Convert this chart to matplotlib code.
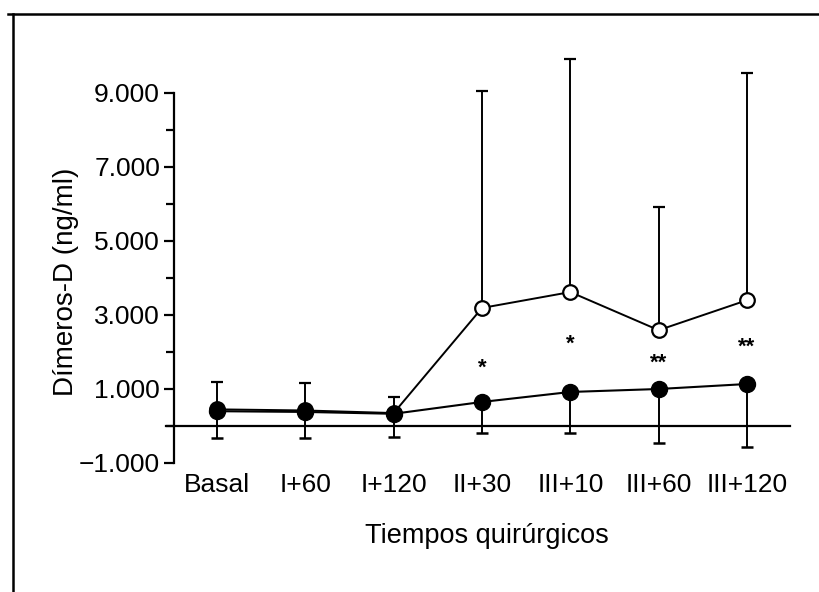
import matplotlib
matplotlib.use('Agg')
import matplotlib.pyplot as plt
from matplotlib.lines import Line2D
from matplotlib.ticker import FixedLocator

plt.rcParams['font.family'] = ['Liberation Sans', 'DejaVu Sans']

# ---- data ----
categories = ["Basal", "I+60", "I+120", "II+30", "III+10", "III+60", "III+120"]
open_mean = [450, 420, 350, 3190, 3620, 2590, 3400]
open_sd_up = [740, 740, 430, 5860, 6300, 3330, 6140]
filled_mean = [400, 380, 330, 650, 920, 1000, 1135]
filled_sd_down = [720, 700, 630, 840, 1120, 1460, 1705]
sig_labels = ["*", "*", "**", "**"]
sig_index = [3, 4, 5, 6]
sig_y = [1700, 2350, 1860, 2270]
ytick_vals = [-1000, 1000, 3000, 5000, 7000, 9000]
ytick_labels = ["\u22121.000", "1.000", "3.000", "5.000", "7.000", "9.000"]
yminor_vals = [0, 2000, 4000, 6000, 8000]

fig = plt.figure(figsize=(8.19, 5.92), dpi=100)
ax = fig.add_axes([174 / 819, 129 / 592, (790 - 174) / 819, (543.4 - 129) / 592])

x = list(range(len(categories)))
zeros = [0] * len(x)

ax.errorbar(x, open_mean, yerr=[zeros, open_sd_up], fmt='-o', color='black',
            mfc='white', mec='black', ms=10.5, mew=1.6, lw=1.4, elinewidth=1.4,
            capsize=4, capthick=1.8, zorder=3)
ax.errorbar(x, filled_mean, yerr=[filled_sd_down, zeros], fmt='-o', color='black',
            mfc='black', mec='black', ms=11.5, lw=1.5, elinewidth=1.4,
            capsize=4, capthick=1.8, zorder=4)

ax.axhline(0, xmin=-0.013, xmax=1.0, color='black', lw=1.6, clip_on=False, zorder=2)

for lab, i, yv in zip(sig_labels, sig_index, sig_y):
    ax.annotate(lab, xy=(x[i], yv), xytext=(0, -8), textcoords='offset points',
                ha='center', va='baseline', fontsize=16, fontweight='bold')

ax.set_xlim(-0.487, 6.487)
ax.set_ylim(-1000, 10200)

for s in ['top', 'right', 'bottom']:
    ax.spines[s].set_visible(False)
ax.spines['left'].set_bounds(-1000, 9000)
ax.spines['left'].set_linewidth(1.6)

ax.set_xticks(x)
ax.set_xticklabels(categories, fontsize=19)
ax.tick_params(axis='x', length=0, pad=7)

ax.yaxis.set_major_locator(FixedLocator(ytick_vals))
ax.set_yticklabels(ytick_labels, fontsize=19)
ax.yaxis.set_minor_locator(FixedLocator(yminor_vals))
ax.tick_params(axis='y', which='major', length=7, width=1.6, pad=3, direction='out')
ax.tick_params(axis='y', which='minor', length=5.5, width=1.6, direction='out')

fig.text(487 / 819, 49 / 592, "Tiempos quirúrgicos", ha='center', va='baseline', fontsize=19.5)
fig.text(66 / 819, (592 - 282) / 592, "Dímeros-D (ng/ml)", ha='center', va='center',
         rotation=90, fontsize=20)

fig.add_artist(Line2D([13 / 819, 13 / 819], [0, 1 - 14 / 592], transform=fig.transFigure,
                      color='black', lw=1.8))
fig.add_artist(Line2D([8 / 819, 1], [1 - 14 / 592, 1 - 14 / 592], transform=fig.transFigure,
                      color='black', lw=1.8))

fig.savefig('out.png', dpi=100)
